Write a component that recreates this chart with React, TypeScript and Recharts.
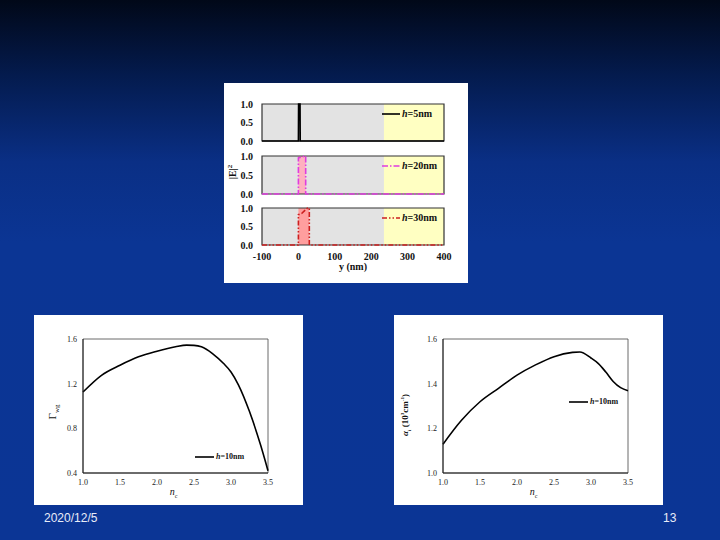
import React from "react";
import {
  ComposedChart,
  LineChart,
  Line,
  XAxis,
  YAxis,
  ReferenceArea,
  Legend,
} from "recharts";

// |E|^2 profiles along y (nm) for three layer thicknesses
const yNm5 = [-100, 0, 0.5, 4.5, 5, 400];
const field5 = [0, 0, 1, 1, 0, 0];
const yNm20 = [-100, 0, 0, 10, 20, 20, 400];
const field20 = [0, 0, 0.95, 0.98, 1, 0, 0];
const yNm30 = [-100, 0, 0, 10, 25, 30, 30, 400];
const field30 = [0, 0, 0.82, 0.86, 1, 1, 0, 0];
const substrateStart = 235;
const yTicksNm = [-100, 0, 100, 200, 300, 400];
const fieldTicks = [0, 0.5, 1];

// confinement factor vs n_c
const ncGamma = [1.0, 1.25, 1.5, 1.75, 2.0, 2.25, 2.4, 2.5, 2.6, 2.75, 2.9, 3.0, 3.1, 3.25, 3.4, 3.5];
const gammaWg = [1.125, 1.275, 1.365, 1.44, 1.49, 1.53, 1.545, 1.543, 1.53, 1.47, 1.38, 1.305, 1.19, 0.95, 0.65, 0.42];
const gammaTicks = [0.4, 0.8, 1.2, 1.6];

// internal loss vs n_c
const ncAlpha = [1.0, 1.25, 1.5, 1.75, 2.0, 2.25, 2.5, 2.75, 2.85, 3.0, 3.1, 3.2, 3.3, 3.4, 3.5];
const alphaI = [1.129, 1.236, 1.319, 1.379, 1.438, 1.484, 1.521, 1.54, 1.542, 1.515, 1.49, 1.452, 1.41, 1.382, 1.368];
const alphaTicks = [1.0, 1.2, 1.4, 1.6];
const ncTicks = [1.0, 1.5, 2.0, 2.5, 3.0, 3.5];

const serif = "'Liberation Serif', 'Times New Roman', serif";

const zip = (xs: number[], ys: number[]) => xs.map((x, i) => ({ x, v: ys[i] }));

function LegendSample({ color, dash, h, width = 18, fontSize = 10 }: any) {
  return (
    <div style={{ display: "flex", alignItems: "center", fontFamily: serif, fontWeight: "bold", fontSize, color: "#111", whiteSpace: "nowrap" }}>
      <svg width={width} height={6} style={{ marginRight: 2 }}>
        <line x1={0} y1={3} x2={width} y2={3} stroke={color} strokeWidth={1.6} strokeDasharray={dash} />
      </svg>
      <span>
        <i>h</i>={h}nm
      </span>
    </div>
  );
}

function FieldPanel({ xs, es, color, dash, pink, pinkTo, h, top, height, margin, showX, yLabel }: any) {
  const data = zip(xs, es);
  return (
    <div style={{ position: "absolute", left: 0, top }}>
      <ComposedChart width={244} height={height} data={data} margin={margin}>
        <XAxis
          type="number"
          dataKey="x"
          domain={[-100, 400]}
          ticks={yTicksNm}
          hide={!showX}
          height={38}
          axisLine={false}
          tickLine={false}
          tickMargin={2}
          tick={{ fontSize: 10, fontWeight: "bold", fontFamily: serif, fill: "#111" }}
          label={(p: any) => {
            const vb = p.viewBox;
            return (
              <text x={vb.x + vb.width / 2} y={vb.y + 25} textAnchor="middle" fontFamily={serif} fontWeight="bold" fontSize={10} fill="#111">
                y (nm)
              </text>
            );
          }}
        />
        <YAxis
          type="number"
          domain={[0, 1]}
          ticks={fieldTicks}
          width={30}
          axisLine={false}
          tickLine={false}
          tickMargin={3}
          tickFormatter={(v: number) => v.toFixed(1)}
          tick={{ fontSize: 10, fontWeight: "bold", fontFamily: serif, fill: "#111" }}
          label={
            yLabel
              ? (p: any) => {
                  const vb = p.viewBox;
                  const cx = vb.x + 4;
                  const cy = vb.y + vb.height / 2 - 3;
                  return (
                    <text x={cx} y={cy} transform={`rotate(-90 ${cx} ${cy})`} textAnchor="middle" fontFamily={serif} fontWeight="bold" fontSize={10} fill="#111">
                      |E|<tspan dy={-4} fontSize={7}>2</tspan>
                    </text>
                  );
                }
              : undefined
          }
        />
        <ReferenceArea x1={-100} x2={substrateStart} y1={0} y2={1} fill="#e3e3e3" fillOpacity={1} stroke="none" />
        <ReferenceArea x1={substrateStart} x2={400} y1={0} y2={1} fill="#ffffc2" fillOpacity={1} stroke="none" />
        {pink ? <ReferenceArea x1={0} x2={pinkTo} y1={0} y2={1} fill={pink} fillOpacity={1} stroke="none" /> : null}
        <Line type="linear" dataKey="v" stroke={color} strokeWidth={1.6} strokeDasharray={dash} dot={false} isAnimationActive={false} />
        <ReferenceArea x1={-100} x2={400} y1={0} y2={1} fill="none" stroke="#333" strokeWidth={1.2} />
        <Legend
          layout="horizontal"
          align="center"
          verticalAlign="middle"
          wrapperStyle={{ top: margin.top + 4, left: 158, width: "auto" }}
          content={() => <LegendSample color={color} dash={dash} h={h} />}
        />
      </ComposedChart>
    </div>
  );
}

function CurveChart({ xs, ys, domain, ticks, left, legendPos, yLabel }: any) {
  const data = zip(xs, ys);
  const tickStyle = { fontSize: 8, fontFamily: serif, fill: "#222" };
  return (
    <div style={{ position: "absolute", left, top: 315, width: 269, height: 190, background: "#fff" }}>
      <LineChart width={269} height={190} data={data} margin={{ top: 24, right: 35, bottom: 0, left: 8 }}>
        <XAxis
          type="number"
          dataKey="x"
          domain={[1, 3.5]}
          ticks={ncTicks}
          height={32}
          stroke="#222"
          tickSize={0}
          tickMargin={6}
          tickFormatter={(v: number) => v.toFixed(1)}
          tick={tickStyle}
          label={(p: any) => {
            const vb = p.viewBox;
            return (
              <text x={vb.x + vb.width / 2 - 2} y={vb.y + 22} textAnchor="middle" fontFamily={serif} fontSize={10} fill="#111">
                <tspan fontStyle="italic">n</tspan>
                <tspan dy={3} fontSize={6}>c</tspan>
              </text>
            );
          }}
        />
        <YAxis
          type="number"
          domain={domain}
          ticks={ticks}
          width={41}
          stroke="#222"
          tickSize={0}
          tickMargin={6}
          tickFormatter={(v: number) => v.toFixed(1)}
          tick={tickStyle}
          label={yLabel}
        />
        <Line type="monotone" dataKey="v" stroke="#000" strokeWidth={1.6} dot={false} isAnimationActive={false} />
        <ReferenceArea x1={1} x2={3.5} y1={domain[0]} y2={domain[1]} fill="none" stroke="#444" strokeWidth={0.8} />
        <Legend
          layout="horizontal"
          align="center"
          verticalAlign="middle"
          wrapperStyle={{ top: legendPos[1], left: legendPos[0], width: "auto" }}
          content={() => <LegendSample color="#000" h="10" width={19} fontSize={8} />}
        />
      </LineChart>
    </div>
  );
}

export default function App() {
  return (
    <div
      style={{
        position: "absolute",
        left: 0,
        top: 0,
        width: 720,
        height: 540,
        overflow: "hidden",
        background: "linear-gradient(180deg, #010818 0%, #041b4e 14%, #0a2f85 30%, #0b3594 45%, #0b3595 100%)",
        fontFamily: "'Liberation Sans', Arial, sans-serif",
      }}
    >
      <div style={{ position: "absolute", left: 224, top: 83, width: 244, height: 200, background: "#fff" }}>
        <FieldPanel
          xs={yNm5}
          es={field5}
          color="#000"
          h="5"
          top={0}
          height={65}
          margin={{ top: 21, right: 24, bottom: 7, left: 8 }}
        />
        <FieldPanel
          xs={yNm20}
          es={field20}
          color="#e03ce0"
          dash="6 2 1.5 2"
          pink="#ffb0bf"
          pinkTo={20}
          h="20"
          top={65}
          height={52}
          margin={{ top: 8, right: 24, bottom: 6, left: 8 }}
          yLabel
        />
        <FieldPanel
          xs={yNm30}
          es={field30}
          color="#cc1f1f"
          dash="5 2 1.5 2 1.5 2"
          pink="#ff9e9e"
          pinkTo={30}
          h="30"
          top={117}
          height={83}
          margin={{ top: 8, right: 24, bottom: 0, left: 8 }}
          showX
        />
      </div>

      <CurveChart
        xs={ncGamma}
        ys={gammaWg}
        domain={[0.4, 1.6]}
        ticks={gammaTicks}
        left={34}
        legendPos={[161, 137]}
        yLabel={(p: any) => {
          const vb = p.viewBox;
          const cx = vb.x + 14;
          const cy = 97;
          return (
            <text x={cx} y={cy} transform={`rotate(-90 ${cx} ${cy})`} textAnchor="middle" fontFamily={serif} fontSize={11} fill="#111">
              Γ<tspan dy={3} fontSize={7}>wg</tspan>
            </text>
          );
        }}
      />
      <CurveChart
        xs={ncAlpha}
        ys={alphaI}
        domain={[1.0, 1.6]}
        ticks={alphaTicks}
        left={394}
        legendPos={[175, 82]}
        yLabel={(p: any) => {
          const vb = p.viewBox;
          const cx = vb.x + 6;
          const cy = 100;
          return (
            <text x={cx} y={cy} transform={`rotate(-90 ${cx} ${cy})`} textAnchor="middle" fontFamily={serif} fontWeight="bold" fontSize={9} fill="#111">
              <tspan fontStyle="italic">α</tspan>
              <tspan dy={3} fontSize={5}>i</tspan>
              <tspan dy={-3}> (10</tspan>
              <tspan dy={-4} fontSize={5}>3</tspan>
              <tspan dy={4}>cm</tspan>
              <tspan dy={-4} fontSize={5}>-1</tspan>
              <tspan dy={4}>)</tspan>
            </text>
          );
        }}
      />

      <div style={{ position: "absolute", left: 44, top: 511, color: "#e8ecf8", fontSize: 12 }}>2020/12/5</div>
      <div style={{ position: "absolute", left: 663, top: 511, color: "#e8ecf8", fontSize: 12 }}>13</div>
    </div>
  );
}
